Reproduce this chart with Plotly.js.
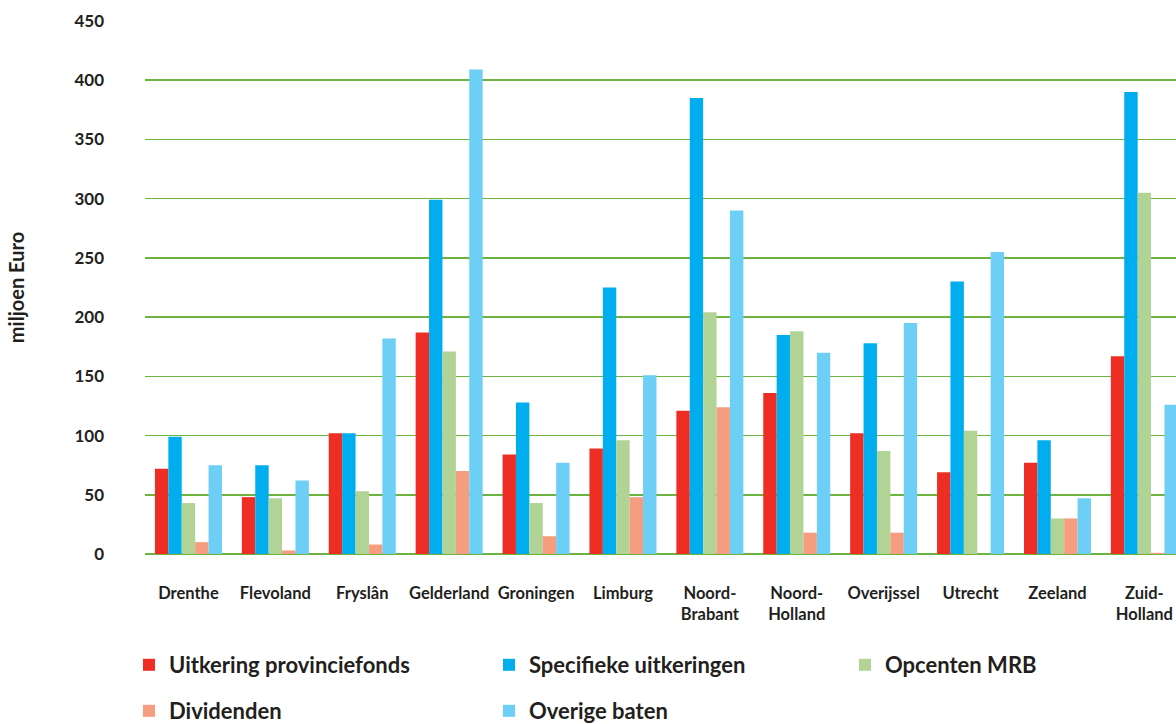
<!DOCTYPE html>
<html>
<head>
<meta charset="utf-8">
<script src="https://cdn.plot.ly/plotly-3.0.1.min.js"></script>
<style>html,body{margin:0;padding:0;background:#fff;}#chart{width:1176px;height:724px;}</style>
</head>
<body>
<div id="chart"></div>
<script>
const categories = ["Drenthe","Flevoland","Fryslân","Gelderland","Groningen","Limburg","Noord-<br>Brabant","Noord-<br>Holland","Overijssel","Utrecht","Zeeland","Zuid-<br>Holland"];
const seriesNames = ["Uitkering provinciefonds","Specifieke uitkeringen","Opcenten MRB","Dividenden","Overige baten"];
const uitkeringProvinciefonds = [72, 48, 102, 187, 84, 89, 121, 136, 102, 69, 77, 167];
const specifiekeUitkeringen   = [99, 75, 102, 299, 128, 225, 385, 185, 178, 230, 96, 390];
const opcentenMRB             = [43, 47, 53, 171, 43, 96, 204, 188, 87, 104, 30, 305];
const dividenden              = [10, 3, 8, 70, 15, 48, 124, 18, 18, 0, 30, 1];
const overigeBaten            = [75, 62, 182, 409, 77, 151, 290, 170, 195, 255, 47, 126];
const yTicks = [0,50,100,150,200,250,300,350,400,450];

const colors = ["#EE2E24","#00AEEF","#B2D396","#F59D7E","#6DCFF6"];
const values = [uitkeringProvinciefonds, specifiekeUitkeringen, opcentenMRB, dividenden, overigeBaten];
const legendIds = ["legend","legend2","legend3","legend4","legend5"];
// legend anchor positions (container px)
const legendX = [129, 489, 845, 129, 489];
const legendY = [665, 665, 665, 711, 711];

const traces = values.map((v,i)=>({
  type:"bar", name: seriesNames[i], x: categories, y: v,
  marker:{color: colors[i], line:{width:0}},
  legend: legendIds[i], hoverinfo:"skip"
}));

const fontFam = "Lato, 'Open Sans', sans-serif";
const dark = "#231F20";

const layout = {
  width:1176, height:724,
  margin:{l:145, r:0, t:21, b:170, pad:0},
  paper_bgcolor:"#fff", plot_bgcolor:"#fff",
  barmode:"group", bargap:0.229, bargroupgap:0,
  font:{family:fontFam, color:dark},
  xaxis:{
    type:"category", range:[-0.5, 11.364], showgrid:false, zeroline:false, showline:false,
    ticks:"", tickfont:{family:fontFam, size:16.5, color:dark, weight:"bold"},
    ticklabelstandoff:27, fixedrange:true, automargin:false
  },
  yaxis:{
    range:[0,450], tickvals:yTicks, ticktext:yTicks.map(String),
    showgrid:true, gridcolor:"#6DB33F", gridwidth:1.5,
    zeroline:true, zerolinecolor:"#6DB33F", zerolinewidth:1.5, showline:false,
    ticks:"", tickfont:{family:fontFam, size:17, color:dark, weight:"bold"},
    ticklabelstandoff:40,
    title:{text:"miljoen Euro", font:{family:fontFam, size:20, color:dark, weight:"bold"}, standoff:44},
    automargin:false, fixedrange:true
  },
  showlegend:true
};
legendIds.forEach((id,i)=>{
  layout[id] = {
    orientation:"h", xref:"container", yref:"container", xanchor:"left", yanchor:"middle",
    x: legendX[i]/1176, y: 1 - legendY[i]/724,
    font:{family:fontFam, size:22, color:dark, weight:"bold"},
    bgcolor:"rgba(0,0,0,0)"
  };
});

Plotly.newPlot("chart", traces, layout, {displayModeBar:false, staticPlot:true});
</script>
</body>
</html>
